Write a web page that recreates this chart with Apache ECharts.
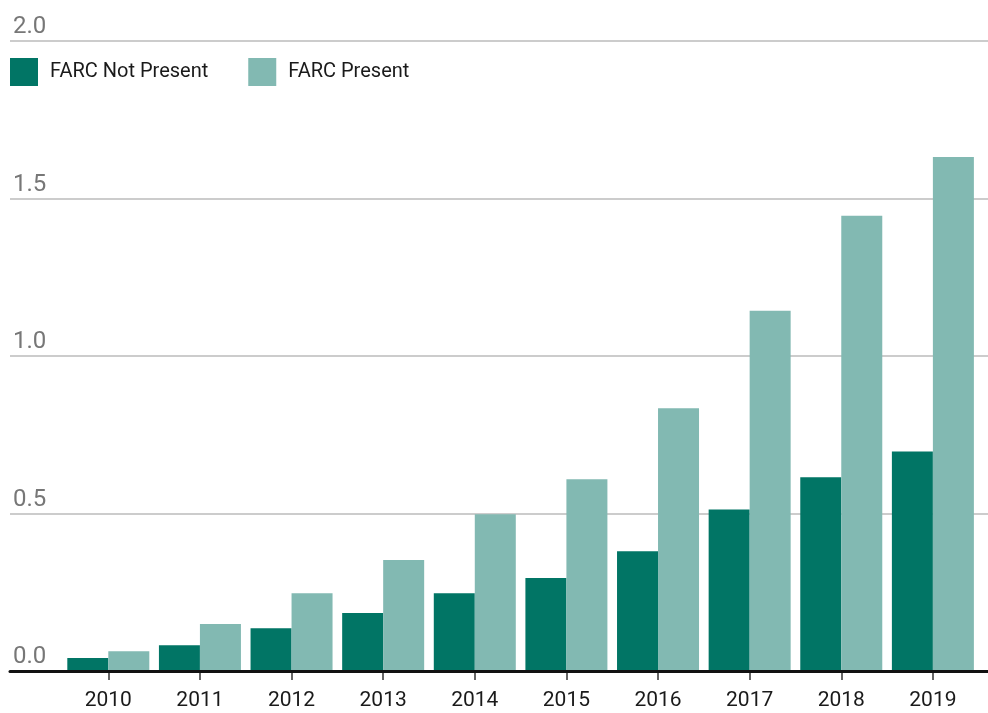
<!DOCTYPE html>
<html>
<head>
<meta charset="utf-8">
<script src="https://cdn.jsdelivr.net/npm/echarts@6/dist/echarts.min.js"></script>
<style>
  html, body { margin: 0; padding: 0; background: #fff; }
  #chart { width: 988px; height: 713px; }
</style>
</head>
<body>
<div id="chart"></div>
<script>
  var years = ['2010', '2011', '2012', '2013', '2014', '2015', '2016', '2017', '2018', '2019'];
  var notPresent = [0.041, 0.082, 0.136, 0.184, 0.247, 0.295, 0.380, 0.513, 0.615, 0.697];
  var present = [0.063, 0.149, 0.247, 0.352, 0.498, 0.609, 0.834, 1.144, 1.445, 1.632];
  var yTicks = { min: 0, max: 2, interval: 0.5 };

  var chart = echarts.init(document.getElementById('chart'));
  var font = 'Roboto, "Liberation Sans", sans-serif';

  var option = {
    animation: false,
    textStyle: { fontFamily: font },
    legend: {
      left: 5,
      top: 53,
      itemWidth: 28,
      itemHeight: 28,
      itemGap: 40,
      icon: 'rect',
      textStyle: { fontSize: 20, color: '#1a1a1a', fontFamily: font, padding: [0, 0, 0, 7] },
      data: ['FARC Not Present', 'FARC Present']
    },
    grid: [
      // full-width grid: gridlines, y labels, base line
      { left: 10, right: 0, top: 41, bottom: 42 },
      // bar grid
      { left: 62.5, right: 9.3, top: 41, bottom: 42 }
    ],
    xAxis: [
      {
        gridIndex: 0, type: 'value', min: 0, max: 1, z: 5,
        axisLine: { show: true, lineStyle: { color: '#111', width: 3 } },
        axisTick: { show: false }, axisLabel: { show: false }, splitLine: { show: false }
      },
      {
        gridIndex: 1, type: 'category', data: years,
        axisLine: { show: false },
        axisTick: { show: true, alignWithLabel: true, length: 9, lineStyle: { color: '#333', width: 1.5 } },
        axisLabel: { fontSize: 21, color: '#1a1a1a', margin: 19, fontFamily: font },
        splitLine: { show: false }
      }
    ],
    yAxis: [
      {
        gridIndex: 0, type: 'value', min: yTicks.min, max: yTicks.max, interval: yTicks.interval,
        axisLine: { show: false }, axisTick: { show: false },
        axisLabel: {
          inside: true, margin: 3, fontSize: 24, color: '#777', verticalAlign: 'bottom',
          padding: [0, 0, 2, 0], fontFamily: font,
          formatter: function (v) { return v.toFixed(1); }
        },
        splitLine: { show: true, lineStyle: { color: '#bbb', width: 1.5 } }
      },
      {
        gridIndex: 1, type: 'value', min: yTicks.min, max: yTicks.max, show: false,
        splitLine: { show: false }
      }
    ],
    series: [
      {
        name: 'FARC Not Present', type: 'bar', xAxisIndex: 1, yAxisIndex: 1,
        data: notPresent, barWidth: 41, barGap: '0%',
        itemStyle: { color: '#017565' }
      },
      {
        name: 'FARC Present', type: 'bar', xAxisIndex: 1, yAxisIndex: 1,
        data: present, barWidth: 41, barGap: '0%',
        itemStyle: { color: '#82b9b2' }
      }
    ]
  };

  chart.setOption(option);
</script>
</body>
</html>
